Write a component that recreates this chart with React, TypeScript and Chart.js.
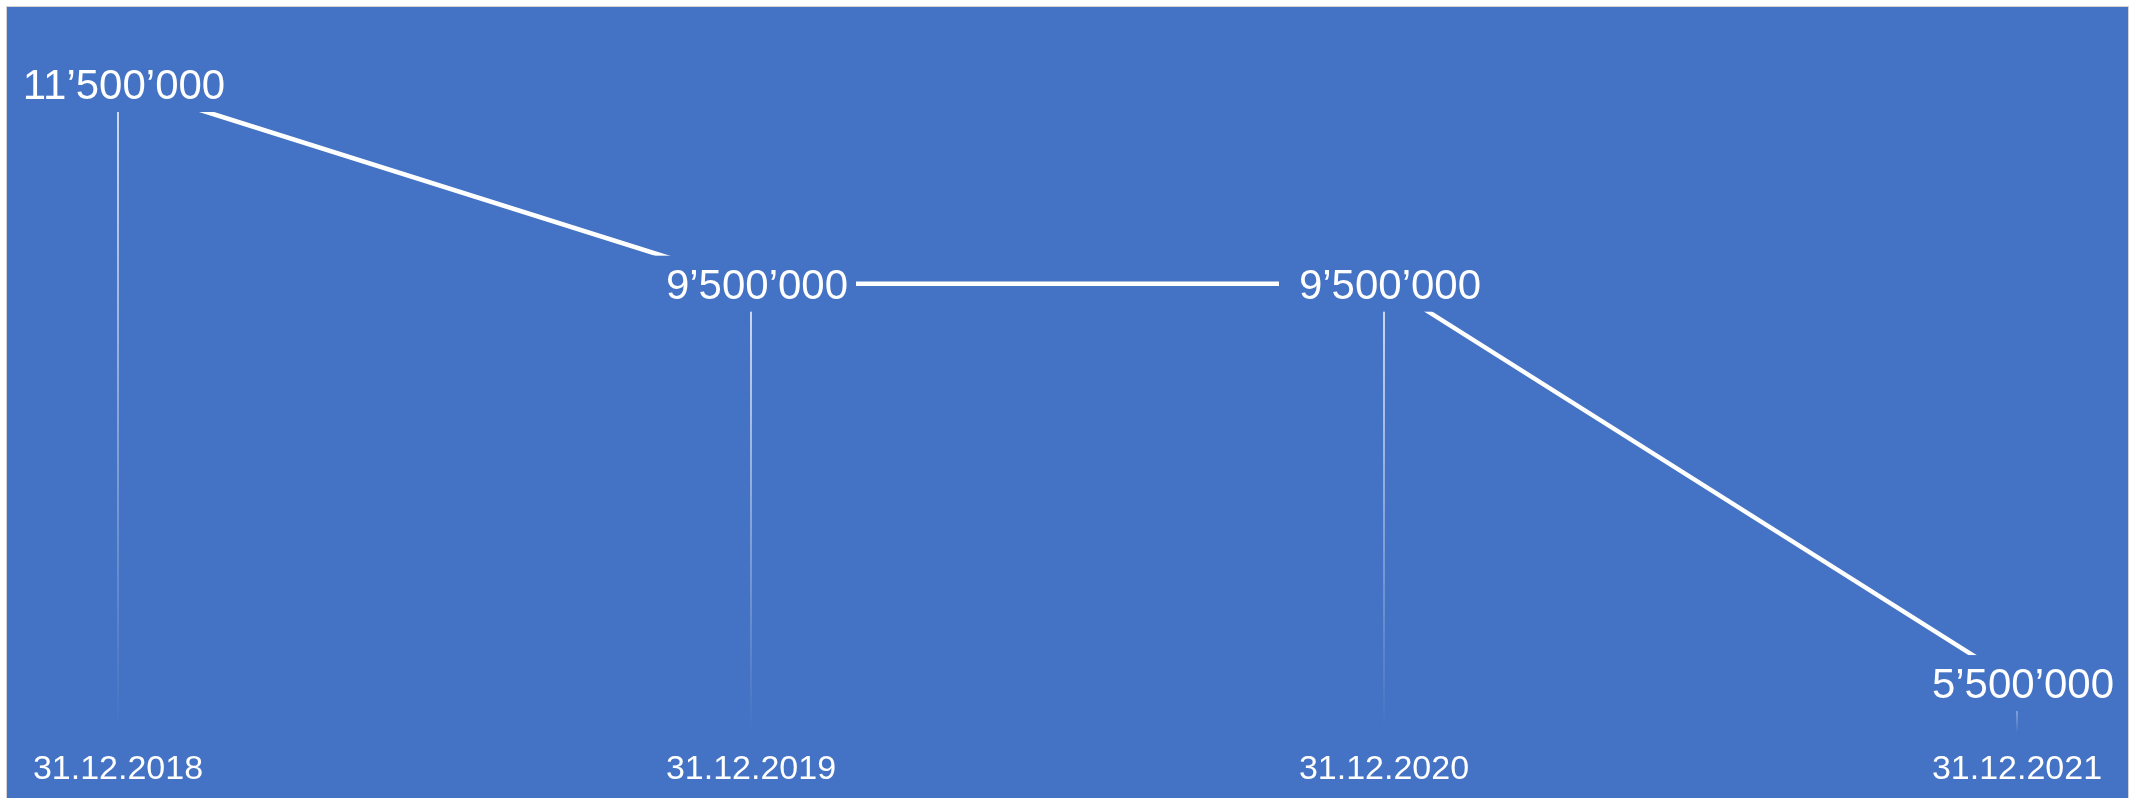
import React, { useEffect, useRef } from "react";
import { Chart, registerables } from "chart.js";

Chart.register(...registerables);

const categories: string[] = ["31.12.2018", "31.12.2019", "31.12.2020", "31.12.2021"];
const values: number[] = [11500000, 9500000, 9500000, 5500000];

const BG = "#4472C4";
const FONT = "'Liberation Sans', Arial, sans-serif";

function fmt(v: number): string {
  return Math.round(v)
    .toString()
    .replace(/\B(?=(\d{3})+(?!\d))/g, "\u2019");
}

const dropLines = {
  id: "dropLines",
  beforeDatasetsDraw(chart: any) {
    const { ctx, chartArea } = chart;
    const meta = chart.getDatasetMeta(0);
    ctx.save();
    meta.data.forEach((pt: any) => {
      const g = ctx.createLinearGradient(0, pt.y, 0, chartArea.bottom);
      g.addColorStop(0, "rgba(255,255,255,0.85)");
      g.addColorStop(1, "rgba(255,255,255,0)");
      ctx.strokeStyle = g;
      ctx.lineWidth = 1.8;
      ctx.beginPath();
      ctx.moveTo(pt.x, pt.y);
      ctx.lineTo(pt.x, chartArea.bottom);
      ctx.stroke();
    });
    ctx.restore();
  },
};

const valueLabels = {
  id: "valueLabels",
  afterDatasetsDraw(chart: any) {
    const { ctx } = chart;
    const meta = chart.getDatasetMeta(0);
    const ds = chart.data.datasets[0].data as number[];
    ctx.save();
    meta.data.forEach((pt: any, i: number) => {
      ctx.fillStyle = BG;
      ctx.fillRect(pt.x - 105, pt.y - 28, 210, 56);
      ctx.fillStyle = "#ffffff";
      ctx.font = `42px ${FONT}`;
      ctx.textAlign = "center";
      ctx.textBaseline = "alphabetic";
      ctx.fillText(fmt(ds[i]), pt.x + 6, pt.y + 15);
    });
    ctx.restore();
  },
};

export default function App() {
  const ref = useRef<HTMLCanvasElement | null>(null);
  useEffect(() => {
    if (!ref.current) return;
    const chart = new Chart(ref.current, {
      type: "line",
      data: {
        labels: categories,
        datasets: [
          {
            data: values,
            borderColor: "#ffffff",
            borderWidth: 4.5,
            pointRadius: 0,
            tension: 0,
            fill: false,
          },
        ],
      },
      options: {
        responsive: false,
        animation: false,
        layout: { padding: { left: 111, right: 111, top: 77, bottom: 0 } },
        plugins: {
          legend: { display: false },
          tooltip: { enabled: false },
        },
        scales: {
          x: {
            offset: false,
            grid: { display: false },
            border: { display: false },
            ticks: {
              color: "#ffffff",
              font: { family: FONT, size: 34, lineHeight: 1 },
              padding: 12,
              maxRotation: 0,
              autoSkip: false,
            },
          },
          y: {
            display: false,
            min: 5000000,
            max: 11500000,
          },
        },
      },
      plugins: [dropLines, valueLabels],
    });
    return () => chart.destroy();
  }, []);

  return (
    <div
      style={{
        position: "absolute",
        left: 6,
        top: 6,
        width: 2123,
        height: 792,
        boxSizing: "border-box",
        border: "1px solid #d4d4d4",
        borderBottom: "none",
        background: BG,
        overflow: "hidden",
      }}
    >
      <canvas ref={ref} width={2121} height={792} style={{ display: "block" }} />
    </div>
  );
}
